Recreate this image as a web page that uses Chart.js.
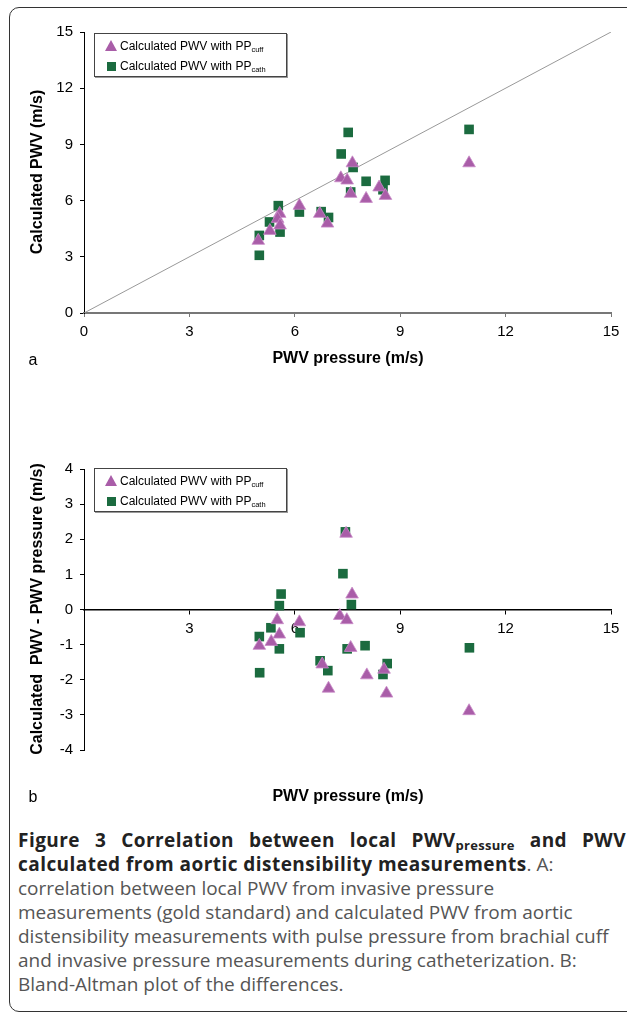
<!DOCTYPE html>
<html>
<head>
<meta charset="utf-8">
<script src="https://cdn.jsdelivr.net/npm/chart.js@4.4.1/dist/chart.umd.min.js"></script>
<style>
  html, body { margin:0; padding:0; background:#fff; }
  body { width:627px; height:1017px; position:relative; overflow:hidden; font-family:"Liberation Sans", Arial, sans-serif; }
  .frame { position:absolute; left:9px; top:7px; width:640px; height:1005px; border:1.5px solid #333; border-radius:10px; box-sizing:border-box; }
  canvas { position:absolute; left:0; }
  .ytitle { position:absolute; font-weight:bold; font-size:16px; color:#000; white-space:pre; transform:translate(-50%,-50%) rotate(-90deg); }
  .xtitle { position:absolute; font-weight:bold; font-size:16px; color:#000; white-space:pre; transform:translate(-50%,-50%); }
  .panel { position:absolute; font-size:16px; color:#000; transform:translate(-50%,-50%); }
  .legend { position:absolute; left:94px; width:193px; height:44px; border:1px solid #444; box-shadow:1px 1px 0 #999; box-sizing:border-box; background:#fff; font-size:12px; color:#000; }
  .li { position:absolute; left:10px; height:14px; line-height:14px; white-space:nowrap; }
  .li .txt { position:absolute; left:15px; top:0; }
  .li sub { font-size:7.5px; vertical-align:-2px; }
  .tri { position:absolute; left:0; top:1px; width:0; height:0; border-left:6px solid transparent; border-right:6px solid transparent; border-bottom:11px solid #A95DA8; }
  .sq { position:absolute; left:1.5px; top:2.5px; width:9px; height:9px; background:#1B6B3F; }
  .caption { position:absolute; left:18px; width:608px; top:828px; font-family:"Open Sans", sans-serif; font-size:19px; line-height:24px; color:#555; }
  .caption div { white-space:nowrap; height:24px; }
  .caption b { color:#222; letter-spacing:0.45px; }
  .caption .l1 { white-space:normal; text-align:justify; text-align-last:justify; }
  .caption sub { font-size:13px; vertical-align:-3px; line-height:0; letter-spacing:0.3px; }
</style>
</head>
<body>
<div class="frame"></div>
<canvas id="c1" width="627" height="400" style="top:0;width:627px;height:400px"></canvas>
<canvas id="c2" width="627" height="380" style="top:440px;width:627px;height:380px"></canvas>

<div class="ytitle" style="left:37px;top:172px">Calculated PWV (m/s)</div>
<div class="xtitle" style="left:348px;top:358px">PWV pressure (m/s)</div>
<div class="panel" style="left:33px;top:360px">a</div>
<div class="legend" style="top:33px">
  <div class="li" style="top:5px"><span class="tri"></span><span class="txt">Calculated PWV with PP<sub>cuff</sub></span></div>
  <div class="li" style="top:25px"><span class="sq"></span><span class="txt">Calculated PWV with PP<sub>cath</sub></span></div>
</div>

<div class="ytitle" style="left:37px;top:609px">Calculated  PWV - PWV pressure (m/s)</div>
<div class="xtitle" style="left:348px;top:796px">PWV pressure (m/s)</div>
<div class="panel" style="left:33px;top:797px">b</div>
<div class="legend" style="top:468px">
  <div class="li" style="top:5px"><span class="tri"></span><span class="txt">Calculated PWV with PP<sub>cuff</sub></span></div>
  <div class="li" style="top:25px"><span class="sq"></span><span class="txt">Calculated PWV with PP<sub>cath</sub></span></div>
</div>

<div class="caption">
  <div class="l1"><b>Figure 3 Correlation between local PWV<sub>pressure</sub> and PWV</b></div>
  <div><b>calculated from aortic distensibility measurements</b>. A:</div>
  <div>correlation between local PWV from invasive pressure</div>
  <div>measurements (gold standard) and calculated PWV from aortic</div>
  <div>distensibility measurements with pulse pressure from brachial cuff</div>
  <div>and invasive pressure measurements during catheterization. B:</div>
  <div>Bland-Altman plot of the differences.</div>
</div>

<script>
// ---- Panel a: correlation ----
const cuffX_a = [7.64, 10.96, 7.31, 7.49, 7.59, 8.40, 8.03, 8.58, 6.13, 5.57, 5.51, 5.58, 6.71, 6.93, 5.29, 4.96];
const cuffY_a = [8.00, 8.00, 7.20, 7.08, 6.37, 6.71, 6.10, 6.26, 5.73, 5.30, 5.03, 4.68, 5.30, 4.78, 4.39, 3.86];
const cathX_a = [7.52, 10.96, 7.32, 7.66, 8.03, 8.57, 8.51, 7.59, 5.53, 6.13, 6.75, 6.96, 5.28, 5.58, 4.99, 4.99];
const cathY_a = [9.64, 9.80, 8.49, 7.77, 7.03, 7.08, 6.58, 6.46, 5.73, 5.39, 5.41, 5.10, 4.86, 4.32, 4.14, 3.08];
const identityX = [0, 15];
const identityY = [0, 15];

// ---- Panel b: Bland-Altman ----
const cuffX_b = [7.46, 7.63, 7.28, 7.48, 7.59, 6.13, 5.50, 5.56, 5.33, 4.99, 6.78, 6.96, 8.05, 8.54, 8.61, 10.96];
const cuffY_b = [2.16, 0.43, -0.18, -0.30, -1.09, -0.36, -0.30, -0.71, -0.92, -1.03, -1.56, -2.25, -1.87, -1.71, -2.39, -2.89];
const cathX_b = [7.44, 7.37, 5.61, 5.56, 7.61, 5.32, 6.15, 4.99, 5.56, 7.49, 8.00, 10.97, 6.72, 6.94, 8.63, 8.51, 5.00];
const cathY_b = [2.21, 1.02, 0.44, 0.11, 0.14, -0.52, -0.66, -0.77, -1.12, -1.12, -1.03, -1.09, -1.46, -1.74, -1.54, -1.85, -1.80];

const xTicks = [0, 3, 6, 9, 12, 15];
const yTicksA = [0, 3, 6, 9, 12, 15];
const yTicksB = [-4, -3, -2, -1, 0, 1, 2, 3, 4];

const CUFF = '#A95DA8', CATH = '#1B6B3F';
const pts = (xs, ys) => xs.map((x, i) => ({x, y: ys[i]}));
const tickFont = {family: '"Liberation Sans", Arial, sans-serif', size: 15};

function scatterDatasets(cx, cy, kx, ky) {
  return [
    {label: 'cuff', data: pts(cx, cy), pointStyle: 'triangle', pointRadius: 7.3, backgroundColor: CUFF, borderColor: '#C98BC8', borderWidth: 0.8, order: 1},
    {label: 'cath', data: pts(kx, ky), pointStyle: 'rect', pointRadius: 6.8, backgroundColor: CATH, borderColor: CATH, borderWidth: 0, order: 2}
  ];
}

new Chart(document.getElementById('c1'), {
  type: 'scatter',
  data: {
    datasets: scatterDatasets(cuffX_a, cuffY_a, cathX_a, cathY_a).concat([
      {label: 'identity', type: 'line', data: pts(identityX, identityY), borderColor: '#999', borderWidth: 1, pointRadius: 0, fill: false, order: 3}
    ])
  },
  options: {
    responsive: false, animation: false, devicePixelRatio: 1,
    layout: {padding: {top: 32, right: 16, bottom: 47, left: 0}},
    plugins: {legend: {display: false}, tooltip: {enabled: false}},
    scales: {
      x: {
        type: 'linear', min: 0, max: 15,
        afterBuildTicks: s => { s.ticks = xTicks.map(v => ({value: v})); },
        afterFit: s => { s.height = 40; },
        ticks: {font: tickFont, color: '#000', padding: 6, maxRotation: 0},
        grid: {drawOnChartArea: false, drawTicks: true, tickLength: 4, color: '#777', lineWidth: 1},
        border: {color: '#777', width: 2}
      },
      y: {
        type: 'linear', min: 0, max: 15,
        afterBuildTicks: s => { s.ticks = yTicksA.map(v => ({value: v})); },
        afterFit: s => { s.width = 84; },
        ticks: {font: tickFont, color: '#000', padding: 7},
        grid: {drawOnChartArea: false, drawTicks: true, tickLength: 4, color: '#000', lineWidth: 1},
        border: {color: '#000', width: 1}
      }
    }
  }
});

new Chart(document.getElementById('c2'), {
  type: 'scatter',
  data: {datasets: scatterDatasets(cuffX_b, cuffY_b, cathX_b, cathY_b)},
  options: {
    responsive: false, animation: false, devicePixelRatio: 1,
    layout: {padding: {top: 29, right: 16, bottom: 70, left: 0}},
    plugins: {legend: {display: false}, tooltip: {enabled: false}},
    scales: {
      x: {
        type: 'linear', min: 0, max: 15, position: {y: 0},
        afterBuildTicks: s => { s.ticks = xTicks.map(v => ({value: v})); },
        ticks: {font: tickFont, color: '#000', padding: 6, maxRotation: 0, callback: v => v === 0 ? '' : String(v)},
        grid: {drawOnChartArea: false, drawTicks: true, tickLength: 4, color: '#000', lineWidth: 1},
        border: {color: '#000', width: 1.5}
      },
      y: {
        type: 'linear', min: -4, max: 4,
        afterBuildTicks: s => { s.ticks = yTicksB.map(v => ({value: v})); },
        afterFit: s => { s.width = 84; },
        ticks: {font: tickFont, color: '#000', padding: 7},
        grid: {drawOnChartArea: false, drawTicks: true, tickLength: 4, color: '#000', lineWidth: 1},
        border: {color: '#000', width: 1}
      }
    }
  }
});
</script>
</body>
</html>
